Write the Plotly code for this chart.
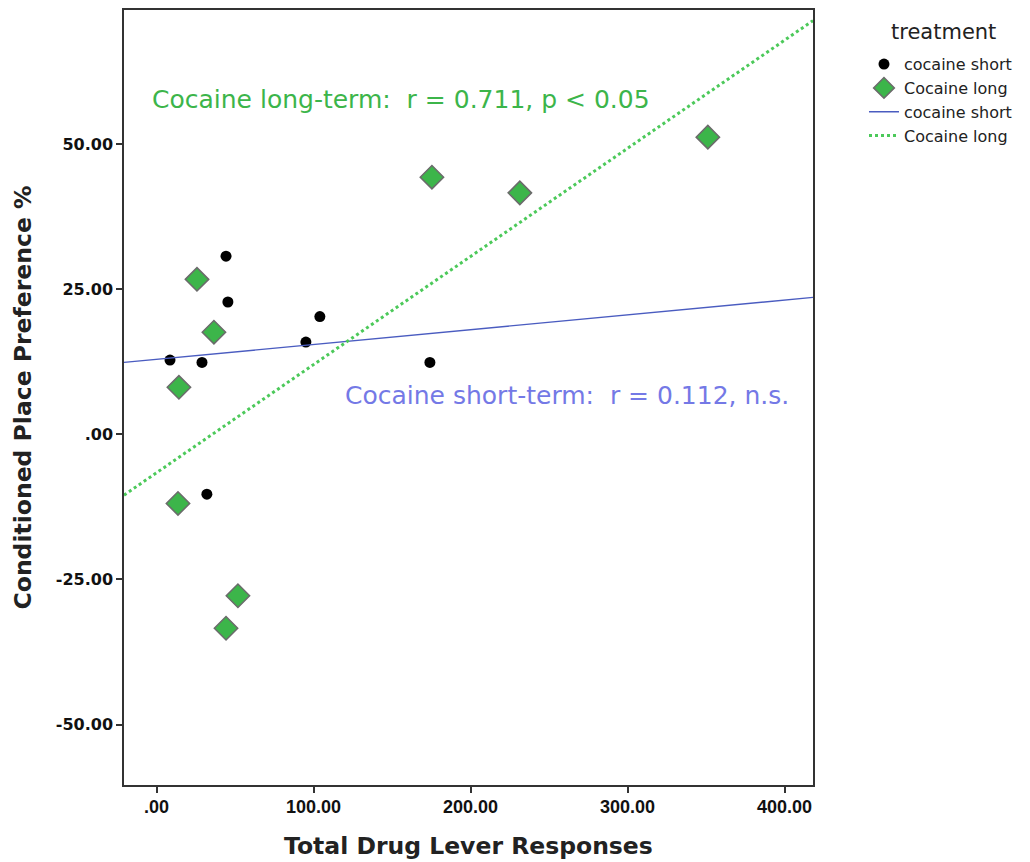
import numpy as np
import plotly.graph_objects as go

# Cocaine short-term group
short_x = [44.0, 45.2, 103.8, 94.9, 8.3, 28.7, 173.9, 31.8]
short_y = [30.7, 22.8, 20.3, 15.9, 12.8, 12.4, 12.4, -10.3]

# Cocaine long-term group
long_x = [25.5, 36.3, 14.0, 13.4, 175.2, 231.2, 351.0, 51.6, 44.0]
long_y = [26.7, 17.6, 8.1, -11.9, 44.3, 41.6, 51.2, -27.8, -33.4]

x_ticks = [0, 100, 200, 300, 400]
x_tick_text = [".00", "100.00", "200.00", "300.00", "400.00"]
y_ticks = [-50, -25, 0, 25, 50]
y_tick_text = ["-50.00", "-25.00", ".00", "25.00", "50.00"]

X_RANGE = [-21, 418]
Y_RANGE = [-60.4, 73.1]

GREEN = "#3cb54a"
GREEN_LINE = "#4cc95a"
BLUE_LINE = "#4a5cc0"
BLUE_TEXT = "#7479e6"

# least-squares fit lines across the full x range
s_slope, s_int = np.polyfit(short_x, short_y, 1)
l_slope, l_int = np.polyfit(long_x, long_y, 1)
fit_x = np.array(X_RANGE, dtype=float)

fig = go.Figure()
fig.add_trace(go.Scatter(
    x=short_x, y=short_y, mode="markers", name="cocaine short",
    marker=dict(symbol="circle", size=11, color="black"),
))
fig.add_trace(go.Scatter(
    x=long_x, y=long_y, mode="markers", name="Cocaine long",
    marker=dict(symbol="diamond", size=18, color=GREEN,
                line=dict(color="#6b6b6b", width=1.5)),
))
fig.add_trace(go.Scatter(
    x=fit_x, y=s_slope * fit_x + s_int, mode="lines", name="cocaine short",
    line=dict(color=BLUE_LINE, width=1.4),
))
fig.add_trace(go.Scatter(
    x=fit_x, y=l_slope * fit_x + l_int, mode="lines", name="Cocaine long",
    line=dict(color=GREEN_LINE, width=3, dash="dot"),
))

axis_common = dict(
    showgrid=False, zeroline=False, showline=True, mirror=True,
    linecolor="#333333", linewidth=1.5, ticks="outside", ticklen=6,
    tickcolor="#333333", tickwidth=1.5, automargin=False,
)

title_font = dict(family="DejaVu Sans", size=23.5, color="#222222")

# x tick labels placed at the tick positions on the x scale
x_label_annotations = [
    dict(text="<b>%s</b>" % txt, x=val, y=0, xref="x", yref="paper",
         xanchor="center", yanchor="middle", yshift=-22, showarrow=False,
         font=dict(family="Liberation Sans Narrow, Liberation Sans",
                   size=18, color="#111111"))
    for val, txt in zip(x_ticks, x_tick_text)
]

fig.update_layout(
    width=1030, height=862,
    margin=dict(l=124, r=217, t=10, b=77),
    paper_bgcolor="white", plot_bgcolor="white",
    font=dict(family="DejaVu Sans", color="black"),
    xaxis=dict(
        range=X_RANGE, tickvals=x_ticks, showticklabels=False,
        **axis_common,
    ),
    yaxis=dict(
        range=Y_RANGE, tickvals=y_ticks,
        ticktext=["<b>%s</b>" % t for t in y_tick_text],
        tickfont=dict(family="DejaVu Sans", size=16, color="#111111"),
        **axis_common,
    ),
    legend=dict(
        x=1.074, y=0.952, xanchor="left", yanchor="top",
        font=dict(family="DejaVu Sans", size=16, color="#222222"),
        tracegroupgap=0, itemwidth=30, bgcolor="rgba(0,0,0,0)",
    ),
    annotations=x_label_annotations + [
        dict(text="<b>Total Drug Lever Responses</b>", x=0.5, y=0,
             xref="paper", yref="paper", xanchor="center", yanchor="middle",
             yshift=-61, showarrow=False, font=title_font),
        dict(text="<b>Conditioned Place Preference %</b>", x=0, y=0.5,
             xref="paper", yref="paper", xanchor="center", yanchor="middle",
             xshift=-102, textangle=-90, showarrow=False, font=title_font),
        dict(text="treatment", x=1.111, y=0.972, xref="paper", yref="paper",
             xanchor="left", yanchor="middle", showarrow=False,
             font=dict(family="DejaVu Sans", size=21, color="#222222")),
        dict(text="Cocaine long-term:  r = 0.711, p < 0.05",
             x=0.0377, y=0.884, xref="paper", yref="paper",
             xanchor="left", yanchor="middle", showarrow=False,
             font=dict(family="DejaVu Sans", size=25, color=GREEN)),
        dict(text="Cocaine short-term:  r = 0.112, n.s.",
             x=0.318, y=0.503, xref="paper", yref="paper",
             xanchor="left", yanchor="middle", showarrow=False,
             font=dict(family="DejaVu Sans", size=25, color=BLUE_TEXT)),
    ],
)

fig.write_html("out.html")
